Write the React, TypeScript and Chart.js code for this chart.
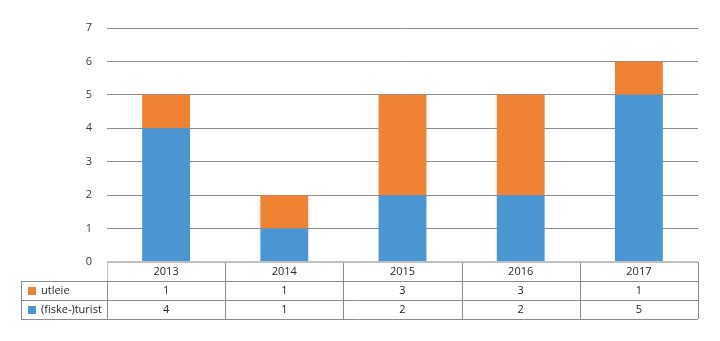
import React, { useEffect, useRef } from "react";
import { Chart, registerables } from "chart.js";

Chart.register(...registerables);

const years = ["2013", "2014", "2015", "2016", "2017"];
const utleie = [1, 1, 3, 3, 1];
const turist = [4, 1, 2, 2, 5];
const seriesNames = ["utleie", "(fiske-)turist"];
const yTicks = [0, 1, 2, 3, 4, 5, 6, 7];

const BLUE = "#4A96D2";
const ORANGE = "#F08234";
const FONT = "'Open Sans', 'Noto Sans', sans-serif";

const tablePlugin = {
  id: "dataTable",
  afterDraw(chart: any) {
    const ctx = chart.ctx;
    const area = chart.chartArea;
    const xs = chart.scales.x;
    const left = area.left;
    const right = area.right;
    const top = area.bottom;
    const rowH = 19;
    const n = years.length;
    const cw = (right - left) / n;
    const legendLeft = 21;
    ctx.save();
    ctx.lineWidth = 1;
    ctx.strokeStyle = "#8c8c8c";
    const line = (x1: number, y1: number, x2: number, y2: number) => {
      ctx.beginPath();
      ctx.moveTo(x1, y1);
      ctx.lineTo(x2, y2);
      ctx.stroke();
    };
    line(left, Math.round(top + rowH) + 0.5, right, Math.round(top + rowH) + 0.5);
    line(legendLeft, Math.round(top + rowH) + 0.5, left, Math.round(top + rowH) + 0.5);
    line(legendLeft, Math.round(top + 2 * rowH) + 0.5, right, Math.round(top + 2 * rowH) + 0.5);
    line(legendLeft, Math.round(top + 3 * rowH) + 0.5, right, Math.round(top + 3 * rowH) + 0.5);
    for (let i = 1; i <= n; i++) {
      const x = Math.round(left + i * cw) + 0.5;
      line(x, top, x, top + 3 * rowH);
    }
    line(legendLeft + 0.5, top + rowH, legendLeft + 0.5, top + 3 * rowH);
    line(Math.round(left) + 0.5, top + rowH, Math.round(left) + 0.5, top + 3 * rowH);
    ctx.strokeStyle = "#bfbfbf";
    line(Math.round(left) + 0.5, top, Math.round(left) + 0.5, top + rowH);
    ctx.lineWidth = 2;
    line(left, Math.round(top), right, Math.round(top));

    ctx.fillStyle = "#262626";
    ctx.font = "11px " + FONT;
    ctx.textAlign = "center";
    ctx.textBaseline = "middle";
    years.forEach((y, i) => {
      const cx = xs.getPixelForValue(i);
      ctx.fillText(y, cx, top + rowH / 2 + 0.5);
      ctx.fillText(String(utleie[i]), cx, top + rowH * 1.5 + 0.5);
      ctx.fillText(String(turist[i]), cx, top + rowH * 2.5 + 0.5);
    });
    const colors = [ORANGE, BLUE];
    ctx.textAlign = "left";
    seriesNames.forEach((name, r) => {
      const cy = top + rowH * (1.5 + r);
      ctx.fillStyle = colors[r];
      ctx.fillRect(28, Math.round(cy - 4), 8, 8);
      ctx.fillStyle = "#262626";
      ctx.fillText(name, 41, cy + 0.5);
    });
    ctx.restore();
  },
};

export default function App() {
  const ref = useRef<HTMLCanvasElement>(null);
  useEffect(() => {
    if (!ref.current) return;
    const chart = new Chart(ref.current, {
      type: "bar",
      data: {
        labels: years,
        datasets: [
          { label: seriesNames[1], data: turist, backgroundColor: BLUE, borderWidth: 0 },
          { label: seriesNames[0], data: utleie, backgroundColor: ORANGE, borderWidth: 0 },
        ],
      },
      options: {
        responsive: false,
        animation: false,
        events: [],
        layout: { padding: { top: 28, right: 22, bottom: 79, left: 0 } },
        plugins: { legend: { display: false }, tooltip: { enabled: false } },
        datasets: { bar: { barPercentage: 0.405, categoryPercentage: 1 } },
        scales: {
          x: { stacked: true, display: false },
          y: {
            stacked: true,
            min: yTicks[0],
            max: yTicks[yTicks.length - 1],
            afterFit: (s: any) => {
              s.width = 107;
            },
            afterBuildTicks: (s: any) => {
              s.ticks = yTicks.map((v) => ({ value: v }));
            },
            border: { display: false },
            grid: { color: "#8c8c8c", drawTicks: false, lineWidth: 1 },
            ticks: {
              padding: 15,
              color: "#3a3a3a",
              font: { family: FONT, size: 11 },
            },
          },
        },
      },
      plugins: [tablePlugin],
    });
    return () => chart.destroy();
  }, []);
  return (
    <div style={{ position: "fixed", left: 0, top: 0, width: 720, height: 341, background: "#fff" }}>
      <canvas ref={ref} width={720} height={341} />
    </div>
  );
}
